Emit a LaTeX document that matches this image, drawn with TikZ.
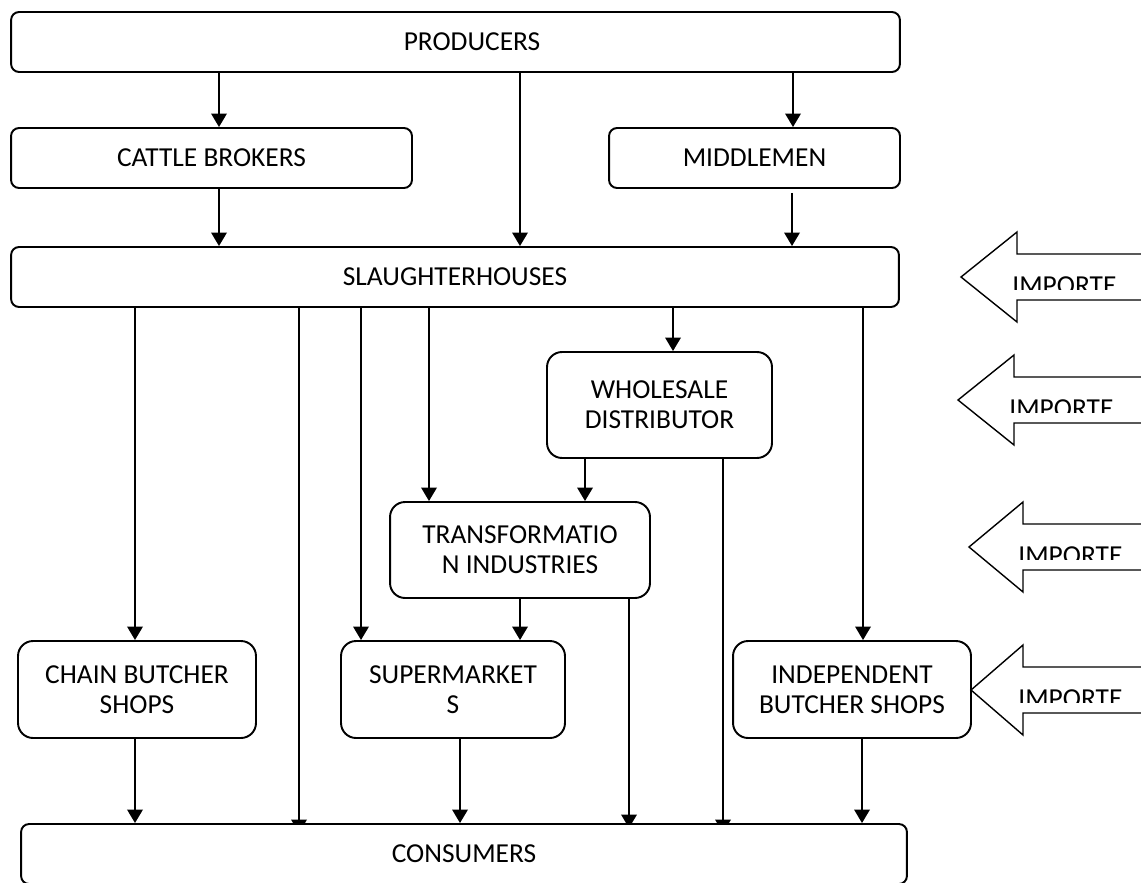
\documentclass[tikz,border=0pt]{standalone}
\usepackage{fontspec}
\setmainfont{Carlito}
\usetikzlibrary{arrows.meta,calc,backgrounds}

\begin{document}
\begin{tikzpicture}[x=0.02cm,y=-0.02cm,
  box/.style={draw,line width=1.1pt,rounded corners=0.16cm,fill=white,inner sep=0pt,align=center,font=\fontsize{15.6}{17}\selectfont},
  tallbox/.style={box,rounded corners=0.3cm},
  arr/.style={line width=1.1pt,-{Triangle[length=2.7mm,width=3.1mm]}},
  imp/.style={draw,line width=0.8pt,fill=white}]
  \useasboundingbox (0,0) rectangle (1141,882);
  \clip (0,0) rectangle (1141,882);
  % Boxes
  \node[box,minimum width=17.78cm,minimum height=1.2cm] (prod) at (455.5,42) {\hspace{0.66cm}PRODUCERS};
  \node[box,minimum width=8.02cm,minimum height=1.2cm] (cattle) at (211.5,158) {CATTLE BROKERS};
  \node[box,minimum width=5.82cm,minimum height=1.2cm] (mid) at (754.5,158) {MIDDLEMEN};
  \node[box,minimum width=17.76cm,minimum height=1.2cm] (sl) at (455,277) {SLAUGHTERHOUSES};
  \node[tallbox,minimum width=4.5cm,minimum height=2.12cm] (whole) at (659.5,405) {WHOLESALE\\DISTRIBUTOR};
  \node[tallbox,minimum width=5.2cm,minimum height=1.92cm] (trans) at (520,550) {TRANSFORMATIO\\N INDUSTRIES};
  \node[tallbox,minimum width=4.76cm,minimum height=1.94cm] (chain) at (137,689.5) {CHAIN BUTCHER\\SHOPS};
  \node[tallbox,minimum width=4.48cm,minimum height=1.94cm] (super) at (453,689.5) {SUPERMARKET\\S};
  \node[tallbox,minimum width=4.76cm,minimum height=1.94cm] (indep) at (852,689.5) {INDEPENDENT\\BUTCHER SHOPS};
  \node[box,minimum width=17.72cm,minimum height=1.2cm] (cons) at (464,854) {CONSUMERS};
  % Arrows from the top
  \draw[arr] (219,0 |- prod.south) -- (219,0 |- cattle.north);
  \draw[arr] (520,0 |- prod.south) -- (520,0 |- sl.north);
  \draw[arr] (793,0 |- prod.south) -- (793,0 |- mid.north);
  \draw[arr] (219,0 |- cattle.south) -- (219,0 |- sl.north);
  \draw[arr] ($(792,0 |- mid.south)+(0,4)$) -- (792,0 |- sl.north);
  % Arrows from the slaughterhouses
  \draw[arr] (135,0 |- sl.south) -- (135,0 |- chain.north);
  \draw[arr] (361,0 |- sl.south) -- (361,0 |- super.north);
  \draw[arr] (429,0 |- sl.south) -- (429,0 |- trans.north);
  \draw[arr] (673,0 |- sl.south) -- (673,0 |- whole.north);
  \draw[arr] (863,0 |- sl.south) -- (863,0 |- indep.north);
  \draw[arr] (585,0 |- whole.south) -- (585,0 |- trans.north);
  \draw[arr] (520,0 |- trans.south) -- (520,0 |- super.north);
  % Arrows to the consumers
  \draw[arr] (135,0 |- chain.south) -- (135,0 |- cons.north);
  \draw[arr] (460,0 |- super.south) -- (460,0 |- cons.north);
  \draw[arr] (862,0 |- indep.south) -- (862,0 |- cons.north);
  \begin{pgfonlayer}{background}
    \draw[arr] (299,0 |- sl.south) -- ($(299,0 |- cons.north)+(0,10)$);
    \draw[arr] (629,0 |- trans.south) -- ($(629,0 |- cons.north)+(0,5)$);
    \draw[arr] (723,0 |- whole.south) -- ($(723,0 |- cons.north)+(0,10)$);
  \end{pgfonlayer}
  % Imports
  \foreach \tx/\ty/\hx/\nm in {961/277/1017/impa,958/400/1014/impb,969/547/1023/impc,971/690/1023/impd}{
    \draw[imp] (\tx,\ty) -- (\hx,\ty-45) -- (\hx,\ty-23) -- (1160,\ty-23) -- (1160,\ty+23) -- (\hx,\ty+23) -- (\hx,\ty+45) -- cycle;
    \begin{scope}
      \clip (\hx-8,\ty-23) rectangle (1150,\ty+12);
      \node[anchor=north west,inner sep=0pt,font=\fontsize{15.6}{17}\selectfont] (\nm) at (\hx-5,\ty-1) {IMPORTE};
    \end{scope}
  }
\end{tikzpicture}
\end{document}
